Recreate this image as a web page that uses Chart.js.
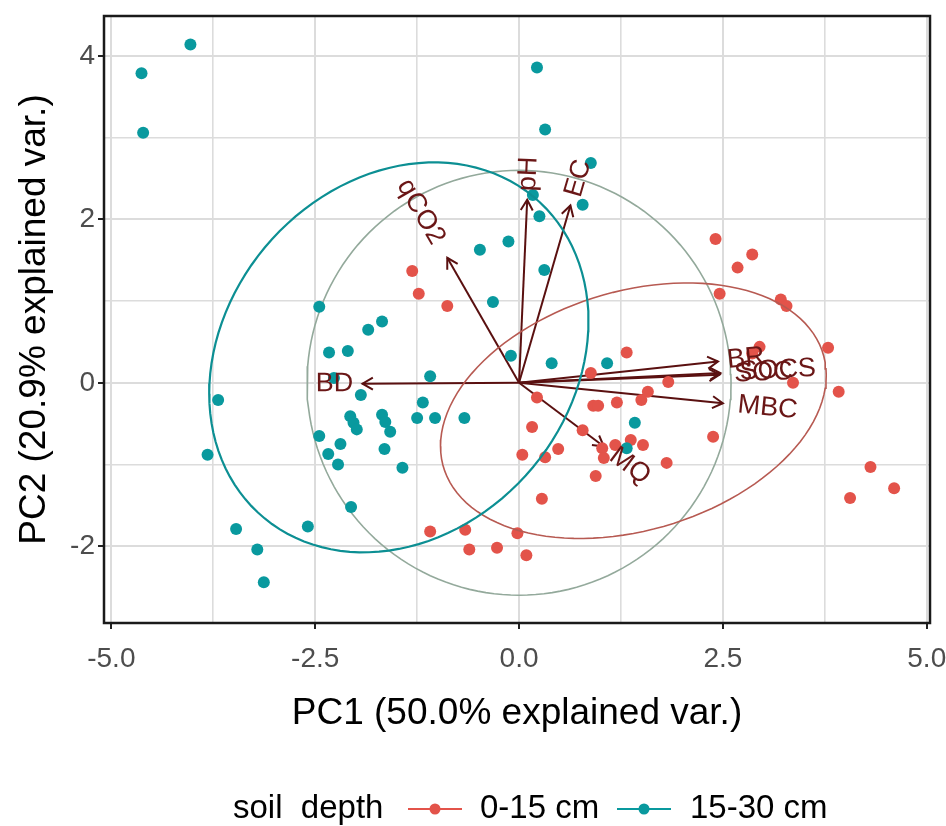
<!DOCTYPE html>
<html><head><meta charset="utf-8">
<script src="https://cdn.jsdelivr.net/npm/chart.js@4.4.1/dist/chart.umd.min.js"></script>
<style>html,body{margin:0;padding:0;background:#fff;}#wrap{width:946px;height:826px;}</style>
</head><body><div id="wrap"><canvas id="c" width="946" height="826"></canvas></div>
<script>
// ---------------- data ----------------
const groupNames = ['0-15 cm', '15-30 cm'];
const legendTitle = 'soil  depth';
const axisTitles = ['PC1 (50.0% explained var.)', 'PC2 (20.9% explained var.)'];

const pc1_0_15 = [-1.31,-1.23,-0.88,2.41,2.86,2.68,2.46,3.21,3.28,3.79,2.95,2.86,3.36,3.92,1.32,1.83,1.58,1.50,1.20,0.91,0.97,2.38,1.81,1.52,1.37,1.18,1.02,1.04,4.31,4.60,4.06,0.88,0.22,0.16,0.78,0.04,0.48,0.32,0.94,0.28,-1.09,-0.66,-0.02,-0.61,-0.27,0.09];
const pc2_0_15 = [1.37,1.09,0.94,1.76,1.57,1.41,1.09,1.02,0.94,0.43,0.44,0.36,0.00,-0.11,0.37,0.01,-0.11,-0.21,-0.24,-0.28,-0.28,-0.66,-0.98,-0.76,-0.70,-0.76,-0.80,-0.92,-1.03,-1.29,-1.41,0.12,-0.18,-0.54,-0.58,-0.88,-0.81,-0.91,-1.14,-1.42,-1.82,-1.80,-1.84,-2.04,-2.02,-2.11];

const pc1_15_30 = [-4.03,-4.63,-4.61,0.22,0.32,0.88,0.17,0.25,0.78,-0.48,-0.13,0.31,-0.32,-0.10,0.40,1.08,-1.09,-1.18,-1.25,-1.03,-0.67,1.42,1.32,-2.45,-1.85,-1.68,-2.33,-2.10,-2.27,-1.94,-2.07,-2.03,-1.99,-1.68,-1.64,-1.58,-2.45,-2.19,-2.34,-2.22,-1.65,-1.43,-3.69,-3.82,-2.06,-3.47,-2.59,-3.21,-3.13];
const pc2_15_30 = [4.14,3.79,3.06,3.86,3.10,2.69,2.30,2.04,2.18,1.63,1.73,1.38,0.99,0.33,0.24,0.24,0.08,-0.24,-0.43,-0.43,-0.43,-0.49,-0.80,0.93,0.65,0.75,0.37,0.39,0.06,-0.15,-0.41,-0.49,-0.57,-0.39,-0.48,-0.60,-0.65,-0.75,-0.87,-1.00,-0.81,-1.04,-0.21,-0.88,-1.52,-1.79,-1.76,-2.04,-2.44];

const varNames = ['BD','qCO2','pH','EC','BR','SOC','SOCS','MBC','MQ'];
const varPC1 = [-1.92,-0.88,0.10,0.63,2.44,2.46,2.47,2.50,1.04];
const varPC2 = [-0.01,1.53,2.24,2.17,0.26,0.10,0.12,-0.25,-0.78];

const xTicks = [-5.0,-2.5,0.0,2.5,5.0];
const xMinorTicks = [-3.75,-1.25,1.25,3.75];
const yTicks = [-2,0,2,4];
const yMinorTicks = [-1,1,3];

// ---------------- styles ----------------
const RED = '#E3534A', TEAL = '#09999E';
const FONT = "'Liberation Sans', Arial, sans-serif";
const ARROW = '#5A1010', LABEL = '#6A1616';

// ellipse as in ggbiplot (ellipse.prob = 0.68) computed from group scores
function ellipse(xs, ys, prob) {
  const n = xs.length;
  const mx = xs.reduce((a,b)=>a+b,0)/n, my = ys.reduce((a,b)=>a+b,0)/n;
  let sxx=0, syy=0, sxy=0;
  for (let i=0;i<n;i++){ const dx=xs[i]-mx, dy=ys[i]-my; sxx+=dx*dx; syy+=dy*dy; sxy+=dx*dy; }
  sxx/=(n-1); syy/=(n-1); sxy/=(n-1);
  const a = Math.sqrt(sxx), b = sxy/a, c = Math.sqrt(syy - b*b);
  const ed = Math.sqrt(-2*Math.log(1-prob));
  const pts = [];
  for (let k=0;k<=120;k++){ const t = -Math.PI + 2*Math.PI*k/120;
    const cx = Math.cos(t), sy = Math.sin(t);
    pts.push({x: mx + ed*(cx*a), y: my + ed*(cx*b + sy*c)}); }
  return pts;
}
// correlation circle as in ggbiplot (circle.prob = 0.69)
function circle(xs, ys, prob) {
  const n = xs.length;
  const m2x = xs.reduce((s,v)=>s+v*v,0)/n, m2y = ys.reduce((s,v)=>s+v*v,0)/n;
  const r = Math.sqrt(-2*Math.log(1-prob)) * Math.pow(m2x*m2y, 0.25);
  const pts = [];
  for (let k=0;k<=160;k++){ const t = 2*Math.PI*k/160; pts.push({x: r*Math.cos(t), y: r*Math.sin(t)}); }
  return pts;
}
const allX = pc1_0_15.concat(pc1_15_30), allY = pc2_0_15.concat(pc2_15_30);

const toPts = (xs, ys) => xs.map((x,i)=>({x, y: ys[i]}));

const datasets = [];
datasets.push({ label:'circle', data: circle(allX, allY, 0.69), showLine:true, pointRadius:0, borderColor:'#93A99B', borderWidth:1.6, fill:false, order:10 });
varNames.forEach((nm,i)=>{
  datasets.push({ label:nm, isArrow:true, data:[{x:0,y:0},{x:varPC1[i],y:varPC2[i]}], showLine:true, pointRadius:0, borderColor:ARROW, borderWidth:2, fill:false, order:9 });
});
datasets.push({ label:groupNames[0], data: toPts(pc1_0_15, pc2_0_15), pointRadius:6, pointBackgroundColor:RED, pointBorderWidth:0, showLine:false, order:4 });
datasets.push({ label:groupNames[1], data: toPts(pc1_15_30, pc2_15_30), pointRadius:6, pointBackgroundColor:TEAL, pointBorderWidth:0, showLine:false, order:3 });
datasets.push({ label:'ell0', data: ellipse(pc1_0_15, pc2_0_15, 0.68), showLine:true, pointRadius:0, borderColor:'#B75A52', borderWidth:1.6, fill:false, order:2 });
datasets.push({ label:'ell1', data: ellipse(pc1_15_30, pc2_15_30, 0.68), showLine:true, pointRadius:0, borderColor:'#0C8F93', borderWidth:2.2, fill:false, order:1 });

const biplotPlugin = {
  id:'biplot',
  afterDatasetDraw(chart, args) {
    const ds = chart.data.datasets[args.index];
    if (!ds.isArrow) return;
    const pts = args.meta.data;
    const p0 = pts[0], p1 = pts[1];
    const ang = Math.atan2(p1.y - p0.y, p1.x - p0.x);
    const L = 12, A = Math.PI/6;
    const ctx = chart.ctx; ctx.save();
    ctx.strokeStyle = ARROW; ctx.lineWidth = 2;
    ctx.beginPath();
    ctx.moveTo(p1.x - L*Math.cos(ang - A), p1.y - L*Math.sin(ang - A));
    ctx.lineTo(p1.x, p1.y);
    ctx.lineTo(p1.x - L*Math.cos(ang + A), p1.y - L*Math.sin(ang + A));
    ctx.stroke(); ctx.restore();
  },
  afterDatasetsDraw(chart) {
    const ctx = chart.ctx, xs = chart.scales.x, ys = chart.scales.y;
    ctx.save();
    ctx.font = "27px " + FONT; ctx.fillStyle = LABEL; ctx.textBaseline = 'middle'; ctx.textAlign = 'left';
    varNames.forEach((nm,i)=>{
      const vx = varPC1[i], vy = varPC2[i];
      const px = xs.getPixelForValue(vx), py = ys.getPixelForValue(vy);
      const angle = Math.atan(vy/vx);
      const hjust = (1 - 1.5*Math.sign(vx))/2;
      const w = ctx.measureText(nm).width;
      ctx.save(); ctx.translate(px, py); ctx.rotate(-angle);
      ctx.fillText(nm, -hjust*w, 0);
      ctx.restore();
    });
    ctx.restore();
  },
  afterDraw(chart) {
    const ctx = chart.ctx, ca = chart.chartArea;
    ctx.save();
    ctx.strokeStyle = '#1a1a1a'; ctx.lineWidth = 2.5;
    ctx.strokeRect(ca.left, ca.top, ca.right - ca.left, ca.bottom - ca.top);
    // legend
    const ly = 809;
    ctx.font = "33px " + FONT; ctx.fillStyle = '#000'; ctx.textBaseline = 'middle'; ctx.textAlign = 'left';
    ctx.fillText(legendTitle, 233, ly);
    const keys = [[408, RED, groupNames[0], 480],[617, TEAL, groupNames[1], 690]];
    keys.forEach(([kx, col, txt, tx])=>{
      ctx.strokeStyle = col; ctx.lineWidth = 2;
      ctx.beginPath(); ctx.moveTo(kx, ly); ctx.lineTo(kx+54, ly); ctx.stroke();
      ctx.fillStyle = col; ctx.beginPath(); ctx.arc(kx+27, ly, 5.5, 0, 2*Math.PI); ctx.fill();
      ctx.fillStyle = '#000'; ctx.fillText(txt, tx, ly);
    });
    ctx.restore();
  }
};

const gridCol = '#DCDCDC';
new Chart(document.getElementById('c'), {
  type:'scatter',
  data:{ datasets },
  options:{
    responsive:false, animation:false, devicePixelRatio:1,
    layout:{ padding:{ top:16, right:16, bottom:83, left:0 } },
    plugins:{ legend:{display:false}, tooltip:{enabled:false} },
    scales:{
      x:{ type:'linear', min:-5.09, max:5.04,
        afterBuildTicks: s => { s.ticks = xTicks.concat(xMinorTicks).sort((a,b)=>a-b).map(v=>({value:v})); },
        afterFit: s => { s.height = 120; s.paddingLeft = 0; s.paddingRight = 0; },
        ticks:{ autoSkip:false, maxRotation:0, padding:13, color:'#4D4D4D', font:{family:FONT, size:28},
          callback: v => xTicks.includes(v) ? v.toFixed(1) : '' },
        grid:{ color:gridCol, lineWidth: c => (c.tick && xTicks.includes(c.tick.value)) ? 2 : 1.6,
          drawTicks:true, tickLength:6, tickWidth:2,
          tickColor: c => (c.tick && xTicks.includes(c.tick.value)) ? '#222' : 'rgba(0,0,0,0)' },
        border:{ display:false },
        title:{ display:true, text:axisTitles[0], color:'#000', font:{family:FONT, size:37, lineHeight:1}, padding:{top:0, bottom:11} }
      },
      y:{ type:'linear', min:-2.94, max:4.49,
        afterBuildTicks: s => { s.ticks = yTicks.concat(yMinorTicks).sort((a,b)=>a-b).map(v=>({value:v})); },
        afterFit: s => { s.width = 104; s.paddingTop = 0; s.paddingBottom = 0; },
        ticks:{ autoSkip:false, padding:3, color:'#4D4D4D', font:{family:FONT, size:28},
          callback: v => yTicks.includes(v) ? String(v) : '' },
        grid:{ color:gridCol, lineWidth: c => (c.tick && yTicks.includes(c.tick.value)) ? 2 : 1.6,
          drawTicks:true, tickLength:6, tickWidth:2,
          tickColor: c => (c.tick && yTicks.includes(c.tick.value)) ? '#222' : 'rgba(0,0,0,0)' },
        border:{ display:false },
        title:{ display:true, text:axisTitles[1], color:'#000', font:{family:FONT, size:37, lineHeight:1}, padding:{top:16, bottom:0} }
      }
    }
  },
  plugins:[biplotPlugin]
});
</script></body></html>
